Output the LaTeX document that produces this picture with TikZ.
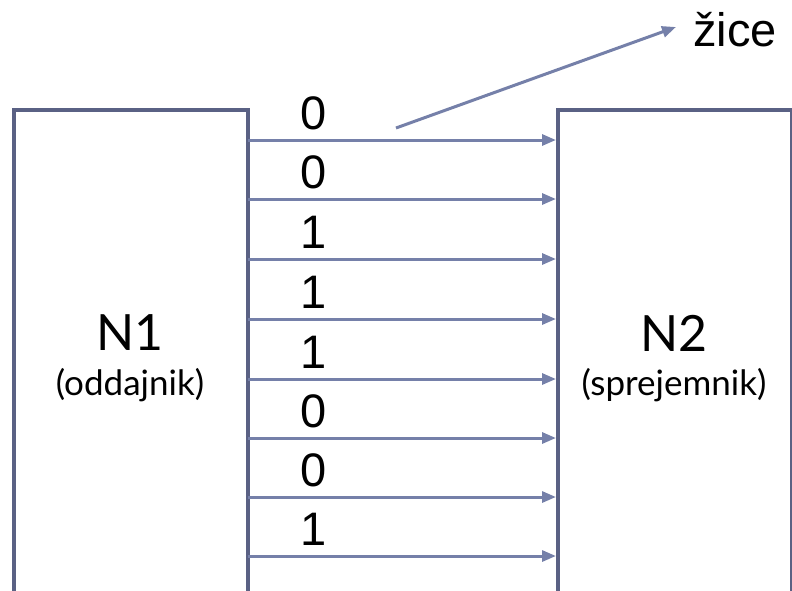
\documentclass[tikz,border=0pt]{standalone}
\usepackage{fontspec}
\setmainfont{Liberation Sans}
\newfontfamily\gill{Lato}
\usetikzlibrary{arrows.meta}
\definecolor{boxc}{HTML}{5A6184}
\definecolor{wirec}{HTML}{7580A9}
\tikzset{
  boxline/.style={draw=boxc, line width=3.5pt},
  wire/.style={draw=wirec, line width=3pt, -{Triangle[length=14pt,width=11pt]}},
  digit/.style={font=\fontsize{47}{50}\selectfont, inner sep=0pt},
  title/.style={font=\gill\fontsize{50}{54}\selectfont, inner sep=0pt},
  sub/.style={font=\gill\fontsize{35}{40}\selectfont, inner sep=0pt},
}
\begin{document}
\begin{tikzpicture}[x=1pt,y=-1pt]
\useasboundingbox (0,0) rectangle (792,590);
% boxes (open at the bottom, running off the page)
\draw[boxline] (14,640) -- (14,110) -- (248,110) -- (248,640);
\draw[boxline] (558,640) -- (558,110) -- (792,110) -- (792,640);
\node[title] (n1) at (130,333) {N1};
\node[sub] (n1s) at (130,385) {(oddajnik)};
\node[title] (n2) at (674,333) {N2};
\node[sub] (n2s) at (674,385) {(sprejemnik)};
% wires
\foreach \i/\y/\b in {1/140/0,2/199/0,3/259/1,4/319/1,5/379/1,6/438/0,7/497/0,8/556/1}{
  \coordinate (s\i) at (248,\y);
  \coordinate (e\i) at (556,\y);
  \draw[wire] (s\i) -- (e\i);
  \node[digit] (d\i) at (314,\y-27) {\b};
}
% label
\node[digit, anchor=west] (zice) at (693,30) {žice};
\coordinate (p) at (396,128);
\draw[wire] (p) -- ([xshift=-17pt,yshift=3pt]zice.west);
\end{tikzpicture}
\end{document}
